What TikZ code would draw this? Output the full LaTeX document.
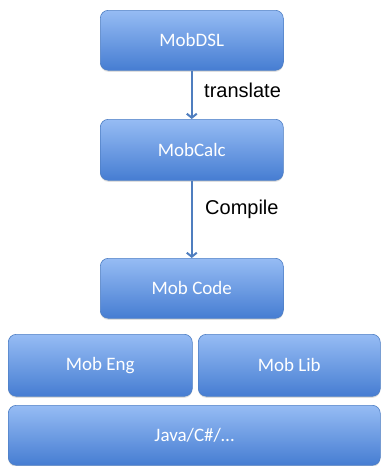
\documentclass[tikz,border=0pt]{standalone}
\usepackage{fontspec}
\setmainfont{Carlito}
\newfontfamily\labelfont{Liberation Sans}
\usetikzlibrary{arrows.meta,shadows}
\definecolor{boxtop}{HTML}{96BCF4}
\definecolor{boxbot}{HTML}{467DD2}
\definecolor{boxline}{HTML}{4F7FC4}
\definecolor{arrowc}{HTML}{4F7EBF}
\tikzset{
  layer/.style={rectangle, rounded corners=8pt, draw=boxline, line width=0.6pt,
    top color=boxtop, bottom color=boxbot, text=white,
    font=\fontsize{19}{22}\selectfont, inner sep=0pt, anchor=north west,
    drop shadow={shadow xshift=0pt, shadow yshift=-1.5pt, opacity=0.25}},
  flow/.style={draw=arrowc, line width=2pt, -{Straight Barb[length=4pt,width=10pt]}},
  steplabel/.style={font=\labelfont\fontsize{20}{24}\selectfont, text=black, anchor=west, inner sep=0pt}
}
\begin{document}
\begin{tikzpicture}[x=1pt,y=-1pt]
\useasboundingbox (0,0) rectangle (382,466);
\node[layer, minimum width=183pt, minimum height=60pt] (dsl) at (100,10) {MobDSL};
\node[layer, minimum width=183pt, minimum height=61pt] (calc) at (100,119) {MobCalc};
\node[layer, minimum width=183pt, minimum height=60pt] (code) at (100,258) {Mob Code};
\node[layer, minimum width=184pt, minimum height=62pt] (eng) at (8,334) {Mob Eng};
\node[layer, minimum width=182pt, minimum height=62pt] (lib) at (198,334) {Mob Lib};
\node[layer, minimum width=372pt, minimum height=60pt] (java) at (8,405) {Java/C\#/\dots};
\draw[flow] (dsl.south) -- (calc.north);
\draw[flow] (calc.south) -- (code.north);
\node[steplabel] (tr) at (204,90) {translate};
\node[steplabel] (co) at (205,209) {Compile};
\end{tikzpicture}
\end{document}
